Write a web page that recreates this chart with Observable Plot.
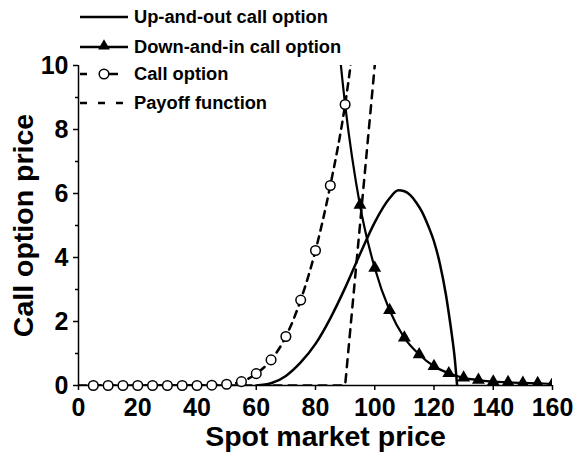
<!DOCTYPE html>
<html><head><meta charset="utf-8">
<script src="https://cdn.jsdelivr.net/npm/d3@7"></script>
<script src="https://cdn.jsdelivr.net/npm/@observablehq/plot@0.6"></script>
<style>
body{margin:0;background:#fff;}
#wrap{position:relative;width:576px;height:455px;font-family:"Liberation Sans",Arial,sans-serif;font-weight:bold;}
#legend{position:absolute;left:0;top:0;width:576px;height:120px;pointer-events:none;}
.row{position:absolute;left:78px;height:24px;display:flex;align-items:center;}
.row span{font-size:18.3px;font-weight:bold;margin-left:4px;color:#000;white-space:nowrap;}
</style></head><body><div id="wrap"><div id="legend"></div></div>
<script>
// Call option (vanilla), circles
const callX = [5,10,15,20,25,30,35,40,45,50,55,60,65,70,75,80,85,90,95];
const callY = [0,0,0,0,0,0,0,0,0.01,0.04,0.12,0.37,0.8,1.53,2.67,4.22,6.25,8.78,12.4];
// Down-and-in call option, triangles
const diX = [85,90,95,100,105,110,115,120,125,130,135,140,145,150,155,160];
const diY = [13.5,8.78,5.64,3.67,2.35,1.49,0.97,0.6,0.38,0.24,0.17,0.12,0.1,0.08,0.07,0.05];
// Up-and-out call option
const uoX = [60,65,70,75,80,85,90,95,100,105,108,110,112,114,116,118,120,122,124,125,126,127,127.8];
const uoY = [0,0.07,0.3,0.72,1.3,2.1,3.05,4.1,5.1,5.85,6.1,6.07,5.95,5.72,5.42,5.0,4.5,3.8,2.85,2.25,1.6,0.85,0];
// Payoff function
const payX = [0,90,101];
const payY = [0,0,11];
const xTicks = [0,20,40,60,80,100,120,140,160];
const yTicks = [0,2,4,6,8,10];
const yMinor = [1,3,5,7,9];
const xTitle = "Spot market price";
const yTitle = "Call option price";
const legendLabels = ["Up-and-out call option","Down-and-in call option","Call option","Payoff function"];

const zip = (xs, ys) => xs.map((x, i) => ({x, y: ys[i]}));
const call = zip(callX, callY), di = zip(diX, diY), uo = zip(uoX, uoY), pay = zip(payX, payY);
const FONT = '"Liberation Sans", Arial, sans-serif';

const chart = Plot.plot({
  width: 576, height: 455,
  marginLeft: 78, marginRight: 24, marginTop: 65, marginBottom: 70,
  x: {domain: [0, 160]},
  y: {domain: [0, 10]},
  style: {fontFamily: FONT, fontWeight: "bold", color: "#000", background: "transparent", overflow: "visible"},
  marks: [
    Plot.axisX({ticks: xTicks, tickSize: 5, tickPadding: 8, fontSize: 25, fontWeight: "bold", label: null, strokeWidth: 1.5}),
    Plot.axisX({ticks: [], tickSize: 0, fontSize: 28.5, fontWeight: "bold",
      label: xTitle, labelAnchor: "center", labelOffset: 60, labelArrow: "none"}),
    Plot.axisY({ticks: yTicks, tickSize: 5, tickPadding: 5, fontSize: 25, fontWeight: "bold", label: null, strokeWidth: 1.5}),
    Plot.axisY({ticks: [], tickSize: 0, fontSize: 28.5, fontWeight: "bold",
      label: yTitle, labelAnchor: "center", labelOffset: 66, labelArrow: "none"}),
    Plot.axisY({ticks: yMinor, tickSize: 3, tickFormat: () => "", label: null, strokeWidth: 1.5}),
    Plot.ruleY([0], {strokeWidth: 1.5}),
    Plot.ruleX([0], {strokeWidth: 1.5}),
    Plot.line(pay, {x: "x", y: "y", stroke: "#000", strokeWidth: 2.5, strokeDasharray: "8,7", clip: true}),
    Plot.line(uo, {x: "x", y: "y", stroke: "#000", strokeWidth: 2.5, curve: "monotone-x", clip: true}),
    Plot.line(di, {x: "x", y: "y", stroke: "#000", strokeWidth: 2.2, curve: "monotone-x", clip: true}),
    Plot.dot(di.filter(d => d.x >= 95), {x: "x", y: "y", symbol: "triangle", fill: "#000", r: 4.8, clip: true}),
    Plot.line(call, {x: "x", y: "y", stroke: "#000", strokeWidth: 2.5, strokeDasharray: "7,6", curve: "monotone-x", clip: true}),
    Plot.dot(call.filter(d => d.y <= 10), {x: "x", y: "y", fill: "#fff", stroke: "#000", strokeWidth: 1.5, r: 4.8})
  ]
});
// shift the x-axis title slightly right, as in the reference
d3.select(chart).selectAll("text").filter(function() { return this.textContent === xTitle; }).attr("dx", 10);
document.getElementById("wrap").prepend(chart);

// Legend overlay
const rowsY = [5, 35, 62, 91];
const leg = d3.select("#legend");
legendLabels.forEach((lab, i) => {
  const row = leg.append("div").attr("class", "row").style("top", rowsY[i] + "px");
  const s = row.append("svg").attr("width", 52).attr("height", 24);
  if (i === 0) {
    s.append("line").attr("x1", 2).attr("x2", 50).attr("y1", 12).attr("y2", 12).attr("stroke", "#000").attr("stroke-width", 2.5);
  } else if (i === 1) {
    s.append("line").attr("x1", 2).attr("x2", 50).attr("y1", 12).attr("y2", 12).attr("stroke", "#000").attr("stroke-width", 2.5);
    s.append("path").attr("d", d3.symbol(d3.symbolTriangle, 60)()).attr("transform", "translate(26,11)").attr("fill", "#000");
  } else if (i === 2) {
    s.append("line").attr("x1", 2).attr("x2", 40).attr("y1", 12).attr("y2", 12).attr("stroke", "#000").attr("stroke-width", 2.5).attr("stroke-dasharray", "7,13,20");
    s.append("circle").attr("cx", 26).attr("cy", 12).attr("r", 4.8).attr("fill", "#fff").attr("stroke", "#000").attr("stroke-width", 1.5);
  } else {
    s.append("line").attr("x1", 2).attr("x2", 50).attr("y1", 12).attr("y2", 12).attr("stroke", "#000").attr("stroke-width", 2.5).attr("stroke-dasharray", "7,11");
  }
  row.append("span").text(lab);
});
</script>
</body></html>
